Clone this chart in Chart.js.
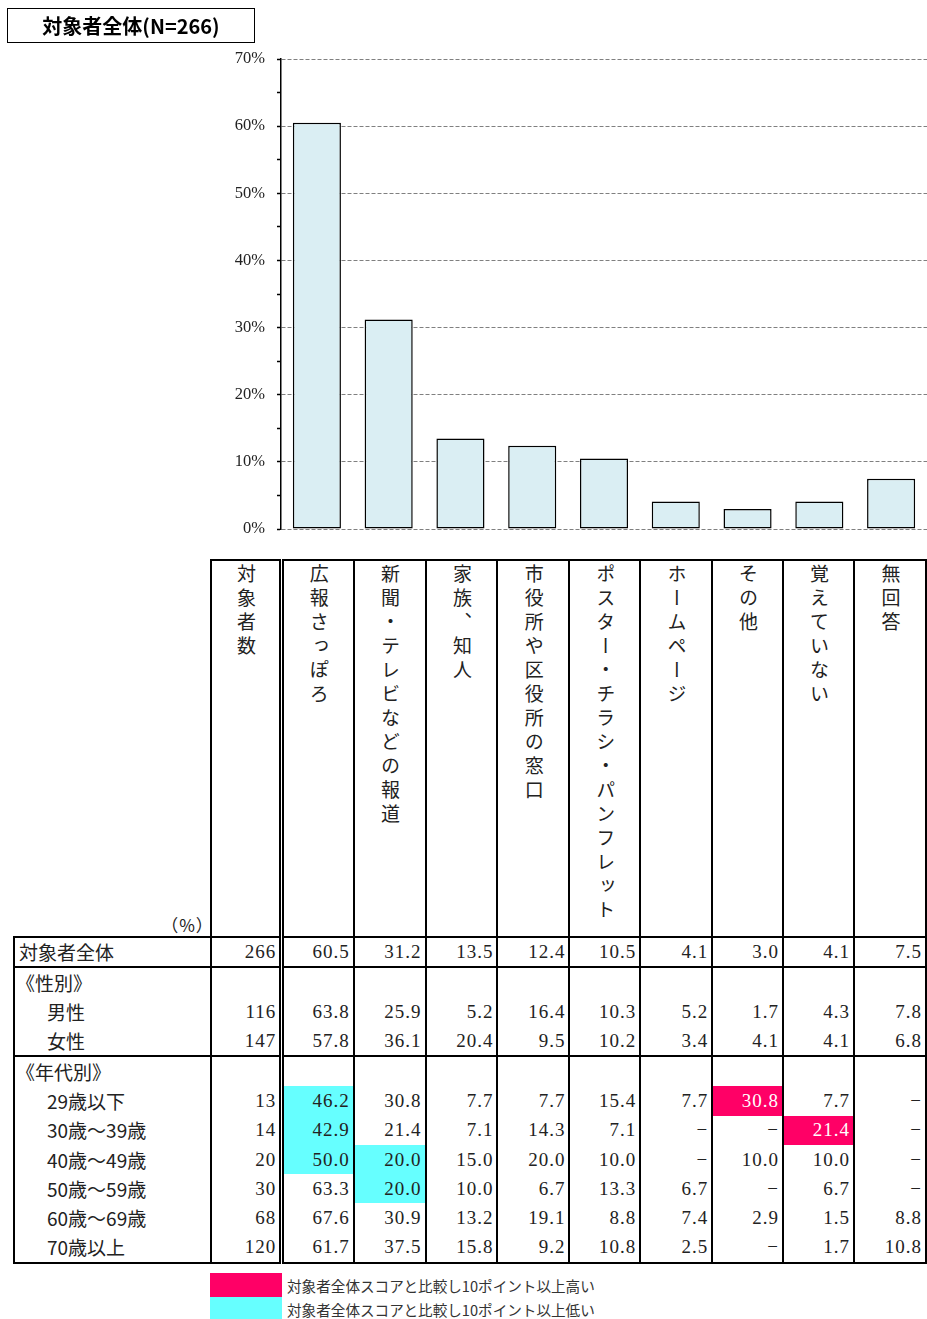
<!DOCTYPE html>
<html>
<head>
<meta charset="utf-8">
<script src="https://cdn.jsdelivr.net/npm/chart.js@4/dist/chart.umd.min.js"></script>
<style>
  body { margin: 0; background: #fff; width: 927px; height: 1319px; position: relative; overflow: hidden; }
  #title { position: absolute; left: 7px; top: 8px; width: 246px; height: 33px; border: 1px solid #000;
    font: bold 20px "Noto Sans CJK JP"; line-height: 33px; text-align: center; color: #000; }
  #chartBox { position: absolute; left: 0; top: 0; }
  #tbl { position: absolute; left: 13px; top: 559px; border-collapse: collapse; table-layout: fixed; color: #222; }
  #tbl td { padding: 0 3px 0 0; height: 29.3px; line-height: 24px; text-align: right; vertical-align: middle;
    font: 19px "Liberation Serif"; letter-spacing: 1px; border-left: 2px solid #000; border-right: 2px solid #000; white-space: nowrap; }
  #tbl tr.total td { height: 28px; }
  #tbl tr.g td { height: 29px; }
  #tbl td.lbl { text-align: left; font: 19px "Noto Sans CJK JP"; line-height: 24px; letter-spacing: 0; padding-left: 4px; }
  #tbl td.lbl.sub { padding-left: 32px; }
  #tbl td.lbl.grp { padding-left: 1px; }
  #tbl td.n { border-right: 5px double #000; }
  #tbl tr.top td { border-top: 2px solid #000; }
  #tbl tr.bot td { border-bottom: 2px solid #000; }
  #tbl tr.head td { height: 372px; line-height: 0; vertical-align: top; text-align: center; padding: 3px 0 0 0; border-top: 2px solid #000; }
  #tbl tr.head td.corner { border-top: none; border-left: none; position: relative; }
  #tbl td.hi { background: #ff0066; color: #fff; }
  #tbl td.lo { background: #66ffff; }
  .vt { writing-mode: vertical-rl; font: 19px "Noto Sans CJK JP"; line-height: 1.2; letter-spacing: 5px; display: inline-block; vertical-align: top; color: #222; }
  #pct { position: absolute; right: -4px; bottom: 0px; font: 17px "Noto Sans CJK JP"; line-height: 22px; color: #222; }
  .leg { position: absolute; left: 210px; width: 72px; height: 24px; }
  .legt { position: absolute; left: 287px; font: 14.6px "Noto Sans CJK JP"; color: #333; line-height: 24px; }
</style>
</head>
<body>
<div id="chartBox"><canvas id="chart" width="927" height="551"></canvas></div>
<div id="title">対象者全体(N=266)</div>
<table id="tbl"></table>
<div class="leg" style="top:1273px;background:#ff0066"></div>
<div class="legt" style="top:1274px">対象者全体スコアと比較し10ポイント以上高い</div>
<div class="leg" style="top:1297px;background:#66ffff"></div>
<div class="legt" style="top:1298px">対象者全体スコアと比較し10ポイント以上低い</div>
<script>
// categories (same order as bars and table columns)
const categories = ['広報さっぽろ', '新聞・テレビなどの報道', '家族、知人', '市役所や区役所の窓口',
  'ポスター・チラシ・パンフレット', 'ホームページ', 'その他', '覚えていない', '無回答'];
const yTicks = [0, 10, 20, 30, 40, 50, 60, 70];

// 対象者全体 (bars)
const totalN = 266;
const totalValues = [60.5, 31.2, 13.5, 12.4, 10.5, 4.1, 3.0, 4.1, 7.5];

// 性別
const genderLabels = ['男性', '女性'];
const genderN = [116, 147];
const maleValues = [63.8, 25.9, 5.2, 16.4, 10.3, 5.2, 1.7, 4.3, 7.8];
const femaleValues = [57.8, 36.1, 20.4, 9.5, 10.2, 3.4, 4.1, 4.1, 6.8];

// 年代別 (null = －)
const ageLabels = ['29歳以下', '30歳～39歳', '40歳～49歳', '50歳～59歳', '60歳～69歳', '70歳以上'];
const ageN = [13, 14, 20, 30, 68, 120];
const age20s = [46.2, 30.8, 7.7, 7.7, 15.4, 7.7, 30.8, 7.7, null];
const age30s = [42.9, 21.4, 7.1, 14.3, 7.1, null, null, 21.4, null];
const age40s = [50.0, 20.0, 15.0, 20.0, 10.0, null, 10.0, 10.0, null];
const age50s = [63.3, 20.0, 10.0, 6.7, 13.3, 6.7, null, 6.7, null];
const age60s = [67.6, 30.9, 13.2, 19.1, 8.8, 7.4, 2.9, 1.5, 8.8];
const age70s = [61.7, 37.5, 15.8, 9.2, 10.8, 2.5, null, 1.7, 10.8];

// ---- bar chart ----
new Chart(document.getElementById('chart'), {
  type: 'bar',
  data: {
    labels: categories,
    datasets: [{
      data: totalValues,
      backgroundColor: '#daeef3',
      borderColor: '#000',
      borderWidth: 1.5,
      borderSkipped: false,
      barPercentage: 0.67,
      categoryPercentage: 1
    }]
  },
  options: {
    responsive: false,
    animation: false,
    devicePixelRatio: 1,
    layout: { padding: { top: 59, bottom: 0, left: 0, right: 0 } },
    plugins: { legend: { display: false }, tooltip: { enabled: false } },
    scales: {
      x: { display: false },
      y: {
        min: 0,
        max: 70,
        afterFit(scale) { scale.width = 281; },
        border: { color: '#000', width: 1.5, dash: [4, 2] },
        grid: {
          color: ctx => (ctx.tick && yTicks.includes(ctx.tick.value)) ? '#808080' : 'rgba(0,0,0,0)',
          tickColor: '#000',
          tickLength: 4,
          tickWidth: 1.5,
          lineWidth: 1
        },
        ticks: {
          stepSize: 5,
          padding: 12,
          color: '#222',
          font: { family: 'Liberation Serif', size: 16.5 },
          callback: v => yTicks.includes(v) ? v + '%' : ''
        }
      }
    }
  }
});

// ---- table ----
const tbl = document.getElementById('tbl');
const colWidths = [197, 71, 72, 72, 72, 72, 71, 72, 71, 71, 72];

function fmt(v) {
  return v === null ? '−' : v.toFixed(1);
}

function addRow(cls, label, labelCls, n, values) {
  const tr = document.createElement('tr');
  if (cls) tr.className = cls;
  let html = `<td class="lbl ${labelCls}">${label}</td><td class="n">${n === null ? '' : n}</td>`;
  categories.forEach((c, i) => {
    if (!values) { html += '<td></td>'; return; }
    const v = values[i];
    let hl = '';
    if (v !== null && v - totalValues[i] >= 10) hl = 'hi';
    if (v !== null && totalValues[i] - v >= 10) hl = 'lo';
    html += `<td class="${hl}">${fmt(v)}</td>`;
  });
  tr.innerHTML = html;
  tbl.appendChild(tr);
}

const cg = document.createElement('colgroup');
colWidths.forEach(w => { const col = document.createElement('col'); col.style.width = w + 'px'; cg.appendChild(col); });
tbl.appendChild(cg);

// header
const head = document.createElement('tr');
head.className = 'head';
let hh = '<td class="corner"><span id="pct">（%）</span></td><td class="n"><span class="vt">対象者数</span></td>';
categories.forEach(c => { hh += `<td><span class="vt">${c}</span></td>`; });
head.innerHTML = hh;
tbl.appendChild(head);

addRow('top total', '対象者全体', '', totalN, totalValues);
addRow('top g', '《性別》', 'grp', null, null);
addRow('g', genderLabels[0], 'sub', genderN[0], maleValues);
addRow('g', genderLabels[1], 'sub', genderN[1], femaleValues);
addRow('top', '《年代別》', 'grp', null, null);
const ageRows = [age20s, age30s, age40s, age50s, age60s, age70s];
ageRows.forEach((vals, i) => {
  addRow(i === ageRows.length - 1 ? 'bot' : '', ageLabels[i], 'sub', ageN[i], vals);
});
</script>
</body>
</html>
